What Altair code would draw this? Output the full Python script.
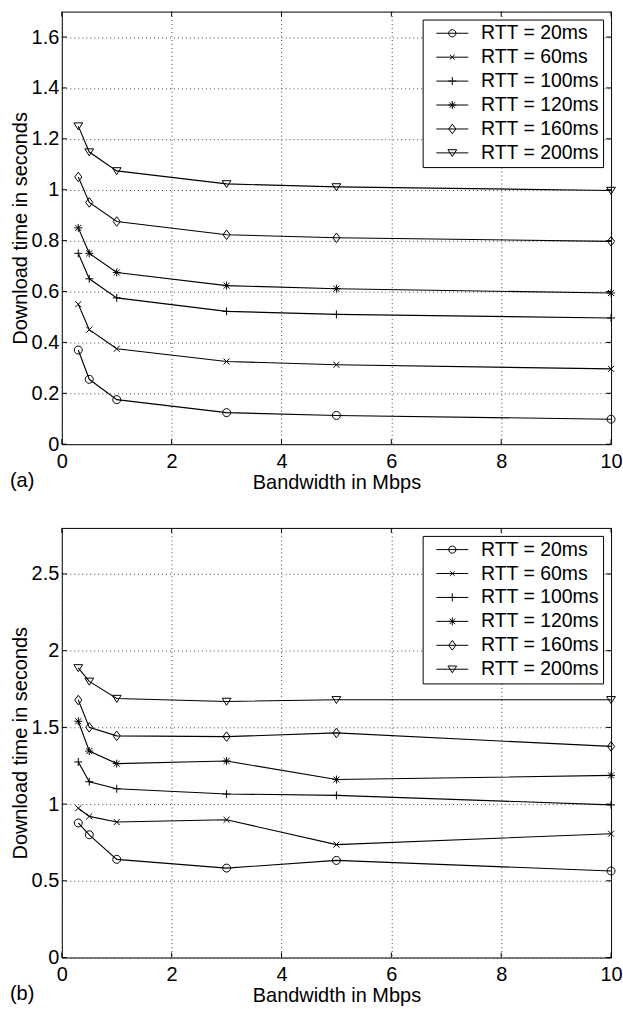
import altair as alt
import pandas as pd

FONT = "Liberation Sans"

# ---------------- data ----------------
bandwidth = [0.3, 0.5, 1, 3, 5, 10]
rtt_labels = ["RTT = 20ms", "RTT = 60ms", "RTT = 100ms",
              "RTT = 120ms", "RTT = 160ms", "RTT = 200ms"]

# panel (a)
a_rtt20 = [0.37, 0.255, 0.175, 0.124, 0.113, 0.098]
a_rtt60 = [0.55, 0.45, 0.375, 0.325, 0.312, 0.296]
a_rtt100 = [0.75, 0.65, 0.575, 0.522, 0.510, 0.496]
a_rtt120 = [0.85, 0.75, 0.675, 0.623, 0.611, 0.594]
a_rtt160 = [1.05, 0.95, 0.875, 0.823, 0.811, 0.797]
a_rtt200 = [1.25, 1.148, 1.074, 1.023, 1.011, 0.997]

# panel (b)
b_rtt20 = [0.877, 0.80, 0.64, 0.583, 0.633, 0.564]
b_rtt60 = [0.973, 0.92, 0.883, 0.898, 0.736, 0.807]
b_rtt100 = [1.275, 1.146, 1.10, 1.066, 1.057, 0.995]
b_rtt120 = [1.54, 1.346, 1.264, 1.281, 1.16, 1.187]
b_rtt160 = [1.678, 1.50, 1.445, 1.44, 1.464, 1.376]
b_rtt200 = [1.888, 1.80, 1.688, 1.669, 1.68, 1.68]

x_ticks = [0, 2, 4, 6, 8, 10]
a_y_ticks = [0, 0.2, 0.4, 0.6, 0.8, 1.0, 1.2, 1.4, 1.6]
b_y_ticks = [0, 0.5, 1.0, 1.5, 2.0, 2.5]
a_y_domain = [0, 1.7]
b_y_domain = [0, 2.8]
x_domain = [0, 10]
x_title = "Bandwidth in Mbps"
y_title = "Download time in seconds"
tags = ["(a)", "(b)"]

# ---------------- marker shapes ----------------
marker_paths = [
    "M1,0A1,1,0,1,1,-1,0A1,1,0,1,1,1,0",                       # circle
    "M-0.75,-0.75L0.75,0.75M-0.75,0.75L0.75,-0.75",             # x
    "M-1,0L1,0M0,-1L0,1",                                        # plus
    "M-1,0L1,0M0,-1L0,1M-0.75,-0.75L0.75,0.75M-0.75,0.75L0.75,-0.75",  # star
    "M0,-1.2L0.9,0L0,1.2L-0.9,0Z",                               # diamond
    "M-1.1,-0.8L1.1,-0.8L0,0.95Z",                               # triangle down
]
line_seg = "M0,0L4,0"
legend_paths = [
    line_seg + "M2.45,0A0.45,0.45,0,1,1,1.55,0A0.45,0.45,0,1,1,2.45,0",
    line_seg + "M1.7,-0.3L2.3,0.3M1.7,0.3L2.3,-0.3",
    line_seg + "M1.5,0L2.5,0M2,-0.5L2,0.5",
    line_seg + "M1.5,0L2.5,0M2,-0.5L2,0.5M1.65,-0.35L2.35,0.35M1.65,0.35L2.35,-0.35",
    line_seg + "M2,-0.6L2.45,0L2,0.6L1.55,0Z",
    line_seg + "M1.45,-0.4L2.55,-0.4L2,0.45Z",
]

W = 551
TICK = 5


def make_df(series):
    rows = []
    for label, vals in zip(rtt_labels, series):
        for b, v in zip(bandwidth, vals):
            rows.append({"bw": b, "t": v, "rtt": label})
    return pd.DataFrame(rows)


def panel(df, ydom, yticks, tag, h):
    xs = alt.Scale(domain=x_domain, nice=False, zero=False)
    ys = alt.Scale(domain=ydom, nice=False, zero=False)
    base = alt.Chart(df)

    main_x = alt.X("bw:Q", scale=xs, title=x_title, axis=alt.Axis(
        values=x_ticks, title=x_title, ticks=False, domain=False, grid=True,
        labelPadding=7, titlePadding=1, format="~r", labelFlush=False,
        labelOverlap=False))
    main_y = alt.Y("t:Q", scale=ys, title=y_title, axis=alt.Axis(
        values=yticks, title=y_title, ticks=False, domain=False, grid=True,
        labelPadding=3, titlePadding=1, format="~r", labelOverlap=False))
    sx = alt.X("bw:Q", scale=xs, title=x_title)
    sy = alt.Y("t:Q", scale=ys, title=y_title)

    lines = base.mark_line(color="black", strokeWidth=1.1).encode(
        x=main_x, y=main_y, detail="rtt:N")

    points = base.mark_point(filled=False, color="black", strokeWidth=1,
                             size=64, opacity=1).encode(
        x=sx, y=sy,
        shape=alt.Shape("rtt:N", scale=alt.Scale(domain=rtt_labels, range=marker_paths),
                        legend=None))

    legend_layer = base.transform_filter("false").mark_point(
        filled=False, color="black", strokeWidth=1, opacity=1).encode(
        shape=alt.Shape("rtt:N", scale=alt.Scale(domain=rtt_labels, range=legend_paths),
                        legend=alt.Legend(
                            title=None, orient="none", legendX=362, legendY=8,
                            padding=4, rowPadding=3, symbolSize=256,
                            symbolStrokeWidth=1, symbolStrokeColor="black",
                            symbolFillColor="transparent",
                            labelFont=FONT, labelFontSize=19.5, labelColor="black",
                            labelOffset=35, strokeColor="black", fillColor="white",
                            labelExpr="datum.label + '\u00a0\u00a0'")))

    # inward tick marks on all four sides, at the axis tick values
    xt = alt.Chart(pd.DataFrame({"bw": x_ticks}))
    yt = alt.Chart(pd.DataFrame({"t": yticks}))
    rule = dict(color="black", strokeWidth=1)
    xtick_bot = xt.mark_rule(**rule).encode(
        x=sx, y=alt.value(h - TICK), y2=alt.value(h))
    xtick_top = xt.mark_rule(**rule).encode(
        x=sx, y=alt.value(0), y2=alt.value(TICK))
    ytick_left = yt.mark_rule(**rule).encode(
        y=sy, x=alt.value(0), x2=alt.value(TICK))
    ytick_right = yt.mark_rule(**rule).encode(
        y=sy, x=alt.value(W - TICK), x2=alt.value(W))

    tag_layer = alt.Chart(pd.DataFrame({"tag": [tag]})).mark_text(
        align="left", baseline="middle", fontSize=20, font=FONT, color="black"
    ).encode(text="tag:N", x=alt.value(-52), y=alt.value(h + 37))

    return alt.layer(lines, xtick_bot, xtick_top, ytick_left, ytick_right,
                     points, legend_layer, tag_layer).resolve_scale(
        shape="independent").properties(width=W, height=h)


top = panel(make_df([a_rtt20, a_rtt60, a_rtt100, a_rtt120, a_rtt160, a_rtt200]),
            a_y_domain, a_y_ticks, tags[0], 434)
bottom = panel(make_df([b_rtt20, b_rtt60, b_rtt100, b_rtt120, b_rtt160, b_rtt200]),
               b_y_domain, b_y_ticks, tags[1], 431)

chart = alt.vconcat(top, bottom, spacing=84, bounds="flush").properties(
    padding={"left": 9, "top": 9, "right": 0, "bottom": 0},
    background="white",
).configure_view(stroke="black", strokeWidth=1).configure_axis(
    labelFont=FONT, titleFont=FONT, labelFontSize=20, titleFontSize=20,
    labelColor="black", titleColor="black", titleFontWeight="normal",
    gridColor="#333333", gridDash=[1, 3], gridWidth=1, gridOpacity=0.9,
)

chart.save("out.html", embed_options={"renderer": "svg", "actions": False})
